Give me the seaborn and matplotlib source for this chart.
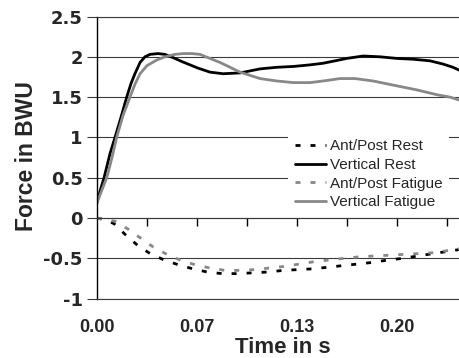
import pandas as pd
import seaborn as sns
import matplotlib
matplotlib.use("Agg")
import matplotlib.pyplot as plt
from matplotlib.ticker import FuncFormatter

# Time axis (s) and force values (BWU)
VERT_REST_T = [0.0000, 0.0022, 0.0049, 0.0089, 0.0122, 0.0162, 0.0200, 0.0229, 0.0255,
               0.0289, 0.0322, 0.0355, 0.0409, 0.0455, 0.0509, 0.0569, 0.0622, 0.0675,
               0.0755, 0.0842, 0.0955, 0.1089, 0.1200, 0.1309, 0.1422, 0.1509, 0.1589,
               0.1667, 0.1777, 0.1889, 0.2000, 0.2109, 0.2222, 0.2309, 0.2375, 0.2422]
VERT_REST = [0.18, 0.33, 0.50, 0.80, 1.00, 1.25, 1.50, 1.67, 1.79,
             1.93, 2.00, 2.03, 2.04, 2.03, 1.99, 1.94, 1.90, 1.86,
             1.81, 1.79, 1.80, 1.85, 1.87, 1.88, 1.90, 1.92, 1.95,
             1.98, 2.01, 2.00, 1.98, 1.97, 1.95, 1.91, 1.87, 1.83]

VERT_FAT_T = [0.0000, 0.0029, 0.0067, 0.0102, 0.0133, 0.0175, 0.0222, 0.0255, 0.0289,
              0.0335, 0.0400, 0.0455, 0.0522, 0.0575, 0.0635, 0.0689, 0.0755, 0.0822,
              0.0867, 0.0955, 0.1089, 0.1200, 0.1311, 0.1422, 0.1509, 0.1622, 0.1722,
              0.1842, 0.2000, 0.2133, 0.2267, 0.2355, 0.2422]
VERT_FAT = [0.18, 0.32, 0.50, 0.75, 1.00, 1.27, 1.50, 1.66, 1.79,
            1.89, 1.96, 2.00, 2.03, 2.04, 2.04, 2.03, 1.98, 1.93,
            1.89, 1.81, 1.73, 1.70, 1.68, 1.68, 1.70, 1.73, 1.73,
            1.70, 1.64, 1.59, 1.53, 1.50, 1.46]

AP_REST_T = [0.0000, 0.0055, 0.0115, 0.0193, 0.0273, 0.0355, 0.0449, 0.0544, 0.0640,
             0.0737, 0.0837, 0.0944, 0.1037, 0.1140, 0.1244, 0.1344, 0.1444, 0.1544,
             0.1644, 0.1744, 0.1844, 0.1944, 0.2044, 0.2144, 0.2249, 0.2355, 0.2422]
AP_REST = [0.00, -0.02, -0.07, -0.21, -0.34, -0.44, -0.52, -0.58, -0.63,
           -0.67, -0.69, -0.69, -0.68, -0.67, -0.65, -0.64, -0.63, -0.61,
           -0.59, -0.57, -0.55, -0.52, -0.50, -0.47, -0.44, -0.41, -0.39]

AP_FAT_T = [0.0000, 0.0022, 0.0122, 0.0211, 0.0293, 0.0377, 0.0467, 0.0555, 0.0655,
            0.0755, 0.0855, 0.0955, 0.1055, 0.1155, 0.1255, 0.1355, 0.1455, 0.1555,
            0.1651, 0.1760, 0.1860, 0.1960, 0.2058, 0.2160, 0.2251, 0.2355, 0.2422]
AP_FAT = [0.00, -0.01, -0.04, -0.14, -0.25, -0.36, -0.45, -0.52, -0.58,
          -0.62, -0.65, -0.65, -0.64, -0.62, -0.60, -0.57, -0.54, -0.52,
          -0.50, -0.48, -0.47, -0.46, -0.45, -0.44, -0.43, -0.40, -0.38]

X_LABEL_TICKS = [0.0, 2 / 30, 4 / 30, 6 / 30]
X_LABELS = ["0.00", "0.07", "0.13", "0.20"]
X_MARK_TICKS = [k / 30 for k in range(1, 8)]
Y_TICKS = [-1, -0.5, 0, 0.5, 1, 1.5, 2, 2.5]

GREY = "#888888"
GRID = "#3a3a3a"

sns.set_style("white")
plt.rcParams["font.family"] = ["Liberation Sans", "DejaVu Sans"]
plt.rcParams["xtick.bottom"] = True
plt.rcParams["ytick.left"] = True

fig = plt.figure(figsize=(4.6, 3.58), dpi=100)
ax = fig.add_axes([0.2102, 0.1659, 0.7898, 0.788])

dash = (0, (1.8, 3.6))
series = [
    ("Ant/Post Rest", AP_REST_T, AP_REST, "black", dash),
    ("Vertical Rest", VERT_REST_T, VERT_REST, "black", "-"),
    ("Ant/Post Fatigue", AP_FAT_T, AP_FAT, GREY, dash),
    ("Vertical Fatigue", VERT_FAT_T, VERT_FAT, GREY, "-"),
]
for name, t, v, color, ls in series:
    df = pd.DataFrame({"time": t, "force": v})
    sns.lineplot(data=df, x="time", y="force", ax=ax, color=color, linestyle=ls,
                 linewidth=2, label=name, estimator=None)

ax.set_xlim(0, 0.2422)
ax.set_ylim(-1, 2.5)

# y axis: gridlines, outward ticks, Excel-style labels
ax.set_yticks(Y_TICKS)
ax.yaxis.set_major_formatter(FuncFormatter(lambda v, p: f"{v:g}"))
ax.grid(axis="y", color=GRID, linewidth=0.8)
ax.grid(axis="x", visible=False)
ax.tick_params(axis="y", direction="out", length=7, width=0.8, color=GRID, pad=3,
               left=True)
for lbl in ax.get_yticklabels():
    lbl.set_fontweight("bold")
    lbl.set_fontsize(13)
    lbl.set_family("DejaVu Sans")

# x labels at the bottom
ax.set_xticks(X_LABEL_TICKS)
ax.set_xticklabels(X_LABELS, fontweight="bold", fontsize=13)
ax.tick_params(axis="x", length=0, pad=15)

for side in ["top", "bottom"]:
    ax.spines[side].set_color(GRID)
    ax.spines[side].set_linewidth(0.8)
ax.spines["right"].set_visible(False)
ax.spines["left"].set_color("black")
ax.spines["left"].set_linewidth(1.0)

# tick marks sit on the zero line
ax2 = ax.twiny()
ax2.set_xlim(ax.get_xlim())
ax2.spines["bottom"].set_position(("data", 0))
ax2.xaxis.set_ticks_position("bottom")
ax2.set_xticks(X_MARK_TICKS)
ax2.tick_params(axis="x", which="major", direction="out", length=6, width=1.0,
                color="black", labelbottom=False, labeltop=False, bottom=True, top=False)
ax2.spines["top"].set_visible(False)
ax2.spines["left"].set_visible(False)
ax2.spines["right"].set_visible(False)
ax2.spines["bottom"].set_color(GRID)
ax2.spines["bottom"].set_linewidth(0.8)
ax2.grid(False)

ax.set_xlabel("Time in s", fontsize=16, fontweight="bold")
ax.set_ylabel("Force in BWU", fontsize=16.5, fontweight="bold")
ax.xaxis.set_label_coords(0.5114, -0.135)
ax.yaxis.set_label_coords(-0.1616, 0.507)

ax.legend(loc="upper left", bbox_to_anchor=(0.626, 0.630), bbox_transform=fig.transFigure,
          fontsize=11, frameon=True, facecolor="white", edgecolor="none", framealpha=1,
          fancybox=False, borderaxespad=0, borderpad=0.46, handlelength=2.0,
          handletextpad=0.26, labelspacing=0.3)

fig.savefig("out.png", dpi=100)
